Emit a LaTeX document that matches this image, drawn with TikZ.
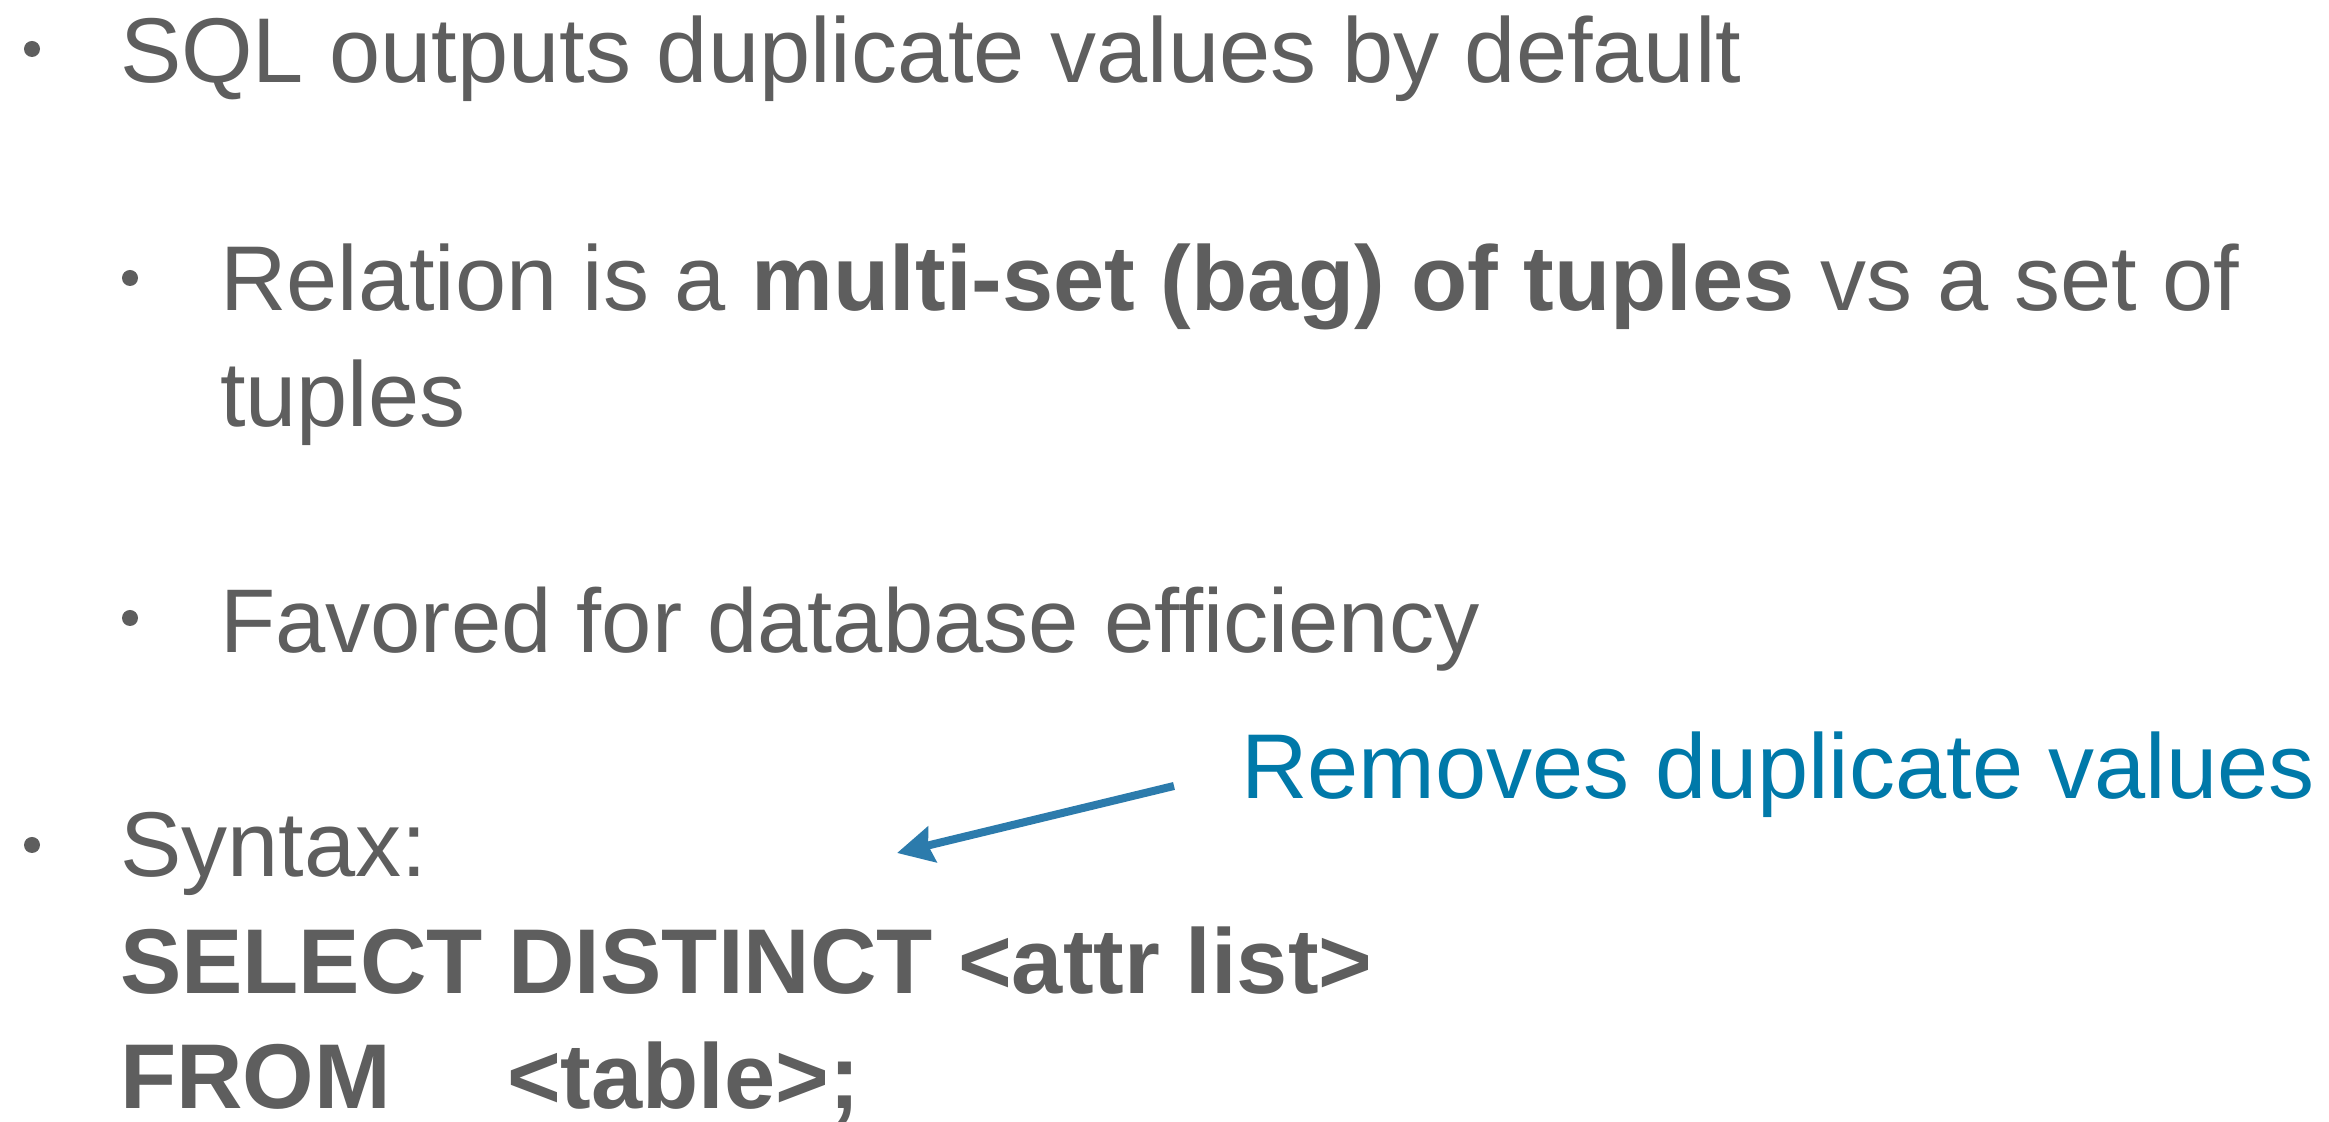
\documentclass[tikz,border=0pt]{standalone}
\usepackage{fontspec}
\setmainfont{Liberation Sans}
\usetikzlibrary{arrows.meta}
\definecolor{txtgray}{HTML}{5E5E5E}
\definecolor{noteblue}{HTML}{0079A9}
\definecolor{arrowblue}{HTML}{2C7BAC}
\begin{document}
\begin{tikzpicture}[x=0.5pt,y=0.5pt,
  line/.style={anchor=base west,inner sep=0pt,outer sep=0pt,text=txtgray,font=\fontsize{46}{55}\selectfont},
  note/.style={anchor=base west,inner sep=0pt,outer sep=0pt,text=noteblue,font=\fontsize{46}{55}\selectfont},
  bul/.style={circle,fill=txtgray,inner sep=0pt,minimum size=8pt},
  pointer/.style={draw=arrowblue,line width=4pt,-{Stealth[length=18pt,width=18pt,inset=2pt]}}]
\fill[white] (0,0) rectangle (2329,1122);
\useasboundingbox (0,0) rectangle (2329,1122);
% level 1
\node[bul] (b1) at (32,1122-49) {};
\node[line] (l1) at (120,1122-83) {SQL outputs duplicate values by default};
% level 2
\node[bul] (b2) at (130,1122-278) {};
\node[line] (l2) at (220,1122-311) {Relation is a \textbf{multi-set (bag) of tuples} vs a set of};
\node[line] (l2b) at (220,1122-427) {tuples};
\node[bul] (b3) at (130,1122-618) {};
\node[line,font=\fontsize{45.2}{55}\selectfont] (l3) at (220,1122-653) {Favored for database efficiency};
% syntax
\node[bul] (b4) at (32,1122-845) {};
\node[line] (l4) at (120,1122-877) {Syntax:};
\node[line,font=\fontsize{46}{55}\selectfont\bfseries] (l5) at (120,1122-994) {SELECT DISTINCT <attr list>};
\node[line,font=\fontsize{46}{55}\selectfont\bfseries] (l6) at (120,1122-1109) {FROM};
\node[line,font=\fontsize{46}{55}\selectfont\bfseries] (l6b) at (507,1122-1109) {<table>;};
% note
\node[note] (nt) at (1241,1122-799) {Removes duplicate values};
\coordinate (atail) at (1174,1122-786);
\coordinate (ahead) at (897,1122-853);
\draw[pointer] (atail) -- (ahead);
\end{tikzpicture}
\end{document}
